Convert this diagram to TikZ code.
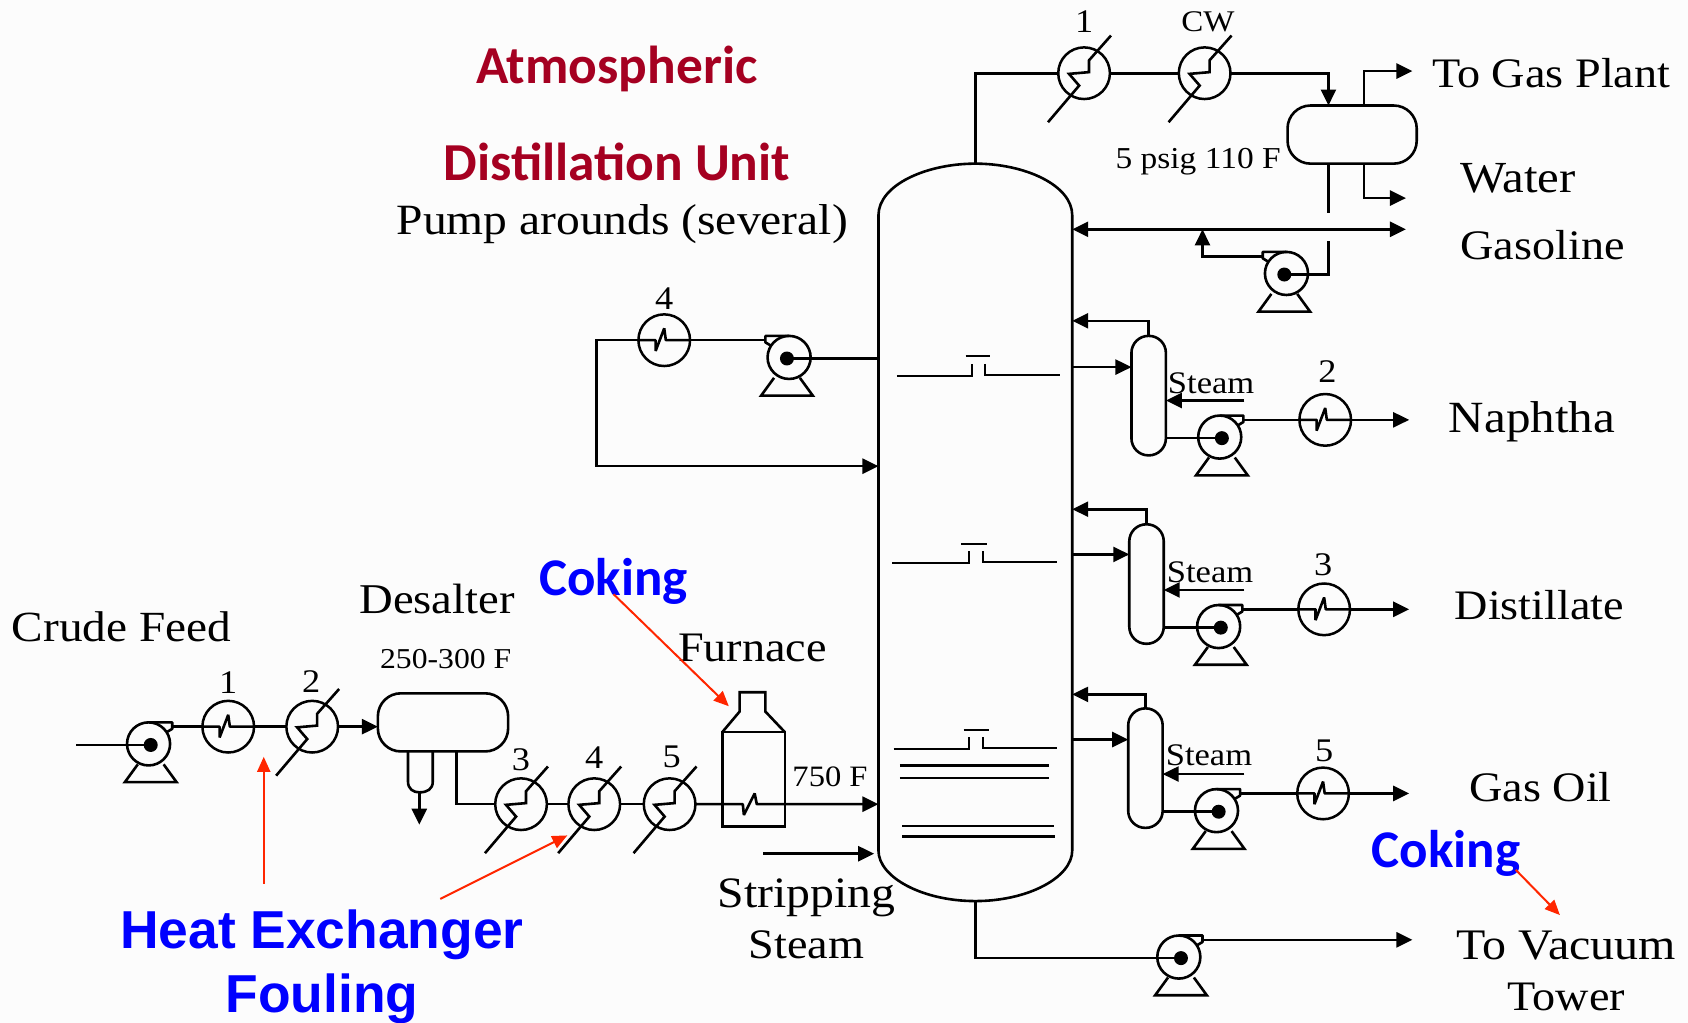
\documentclass[tikz,border=0pt]{standalone}
\usepackage{fontspec}
\usetikzlibrary{arrows.meta,calc}
\setmainfont[FakeStretch=1.1]{Liberation Serif}
\newfontfamily\carl[BoldFont={Carlito Bold}]{Carlito}
\newfontfamily\lsans{Liberation Sans}
\definecolor{titlered}{RGB}{165,0,33}
\definecolor{cokeblue}{RGB}{0,0,255}
\definecolor{arrowred}{RGB}{255,38,0}
\def\uu{0.53827pt}
\tikzset{
  pipe/.style={line width=1.3pt,line join=miter},
  flow/.style={pipe,-{Triangle[length=8pt,width=7.5pt]}},
  bothflow/.style={pipe,{Triangle[length=8pt,width=7.5pt]}-{Triangle[length=8pt,width=7.5pt]}},
  hxshell/.style={circle,draw,line width=1.25pt,minimum size=48*\uu,inner sep=0pt,outer sep=0pt},
  pumpbody/.style={circle,draw,line width=1.3pt,minimum size=40*\uu,inner sep=0pt,outer sep=0pt},
  drum/.style={rectangle,draw,line width=1.3pt,rounded corners=11.5pt,inner sep=0pt,outer sep=0pt},
  strip/.style={rectangle,draw,line width=1.3pt,rounded corners=8.5pt,minimum width=32*\uu,minimum height=111*\uu,inner sep=0pt,outer sep=0pt},
  fs/.style={font=\fontsize{#1}{24}\selectfont,inner sep=0pt},
  biglabel/.style={fs=21},
  midlabel/.style={fs=15},
  numlabel/.style={fs=16.5},
  redarrow/.style={draw=arrowred,line width=1pt,-{Triangle[length=7.5pt,width=6.5pt]}},
  titletext/.style={font=\carl\bfseries\fontsize{26.7}{30}\selectfont,text=titlered,inner sep=0pt},
  cokingtext/.style={font=\carl\bfseries\fontsize{26.5}{30}\selectfont,text=cokeblue,inner sep=0pt},
  foultext/.style={font=\lsans\bfseries\fontsize{26.7}{30}\selectfont,text=cokeblue,inner sep=0pt},
}
% full heat exchanger: shell and diagonal tube pass
\newcommand\HXfull[3]{%
  \node[hxshell] (#1) at (#2,#3) {};
  \draw[pipe] ($(#1)+(-33.5,45.5)$) -- ($(#1)+(-4.6,11.5)$) -- ($(#1)+(-14,0.6)$) -- ($(#1)+(4.6,-1)$) -- ($(#1)+(4.6,-12)$) -- ($(#1)+(25,-35)$);
}
% simple heat exchanger: shell and through line with a kink
\newcommand\HXkink[3]{%
  \node[hxshell] (#1) at (#2,#3) {};
  \draw[pipe,line join=bevel] (#1.west) -- ($(#1)+(-8,0)$) -- ($(#1)+(-8,10)$) -- ($(#1)+(0,-11)$) -- ($(#1)+(1.5,0)$) -- (#1.east);
}
% pump: name, x, y of the shaft, side of the outlet (+1 right, -1 left); makes #1-c and #1-out
\newcommand\Pump[4]{%
  \coordinate (#1-c) at (#2,#3);
  \node[pumpbody] (#1) at ($(#1-c)+(-#4*2,-1)$) {};
  \fill (#1-c) circle[radius=6.5*\uu];
  \draw[pipe,line join=round] ($(#1)+(0,-20)$) -- ($(#1-c)+(#4*20,-21)$) -- ($(#1-c)+(#4*20,-15)$) -- ($(#1-c)+(#4*15,-12)$);
  \draw[pipe] ($(#1-c)+(-12,18)$) -- ($(#1-c)+(-24,34.5)$) -- ($(#1-c)+(24,34.5)$) -- ($(#1-c)+(12,18)$);
  \coordinate (#1-out) at ($(#1-c)+(#4*20,-17)$);
}
% tray with chimney cap
\newcommand\Tray[8]{%
  \draw[pipe,line width=1.1pt] (#1,#2) -- (#3,#2) -- (#3,{#2-11});
  \draw[pipe,line width=1.1pt] (#4,{#2-11}) -- (#4,#5) -- (#6,#5);
  \draw[pipe,line width=1.1pt] (#7,{#2-18}) -- (#8,{#2-18});
}
\begin{document}
\begin{tikzpicture}[x=\uu,y=-\uu]
\useasboundingbox (0,0) rectangle (1568,950);
\fill[white!99!black] (0,0) rectangle (1568,950);

% titles and annotation text
\node[titletext] (t1) at (573,64) {Atmospheric};
\node[titletext] (t2) at (573,150) {Distillation Unit};
\node[fs=21.6] (l-pa) at (578,208) {Pump arounds (several)};
\node[cokingtext] (c1) at (570,540) {Coking};
\node[cokingtext] (c2) at (1343,793) {Coking};
\node[foultext] (f1) at (299,868) {Heat Exchanger};
\node[foultext] (f2) at (299,928) {Fouling};

% column
\coordinate (coltop) at (906,152);
\coordinate (colbot) at (906,837);
\draw[pipe] (816,790) -- (816,200) .. controls (816,172) and (860,152) .. (coltop) .. controls (952,152) and (996,172) .. (996,200) -- (996,790) .. controls (996,815) and (955,837) .. (colbot) .. controls (857,837) and (816,815) .. (816,790) -- cycle;

% trays
\Tray{833}{349}{903}{915}{348}{985}{897}{920}
\Tray{829}{523}{900}{913}{522}{982}{893}{917}
\Tray{830}{696}{900}{913}{695}{982}{895}{919}
\foreach \a/\b/\c/\d in {836/711/974/711,836/723/974/723,838/767/979/767,838/777/980/777}
  \draw[pipe,line width=1.1pt] (\a,\b) -- (\c,\d);

% overhead
\HXfull{ho1}{1007}{68}
\HXfull{hocw}{1119}{68}
\node[drum,minimum width=120*\uu,minimum height=54*\uu] (od) at (1256,125) {};
\coordinate (odin) at (1234,98);
\coordinate (odgas) at (1267,98);
\coordinate (odwat) at (1267,152);
\coordinate (odliq) at (1234,152);
\coordinate (gasend) at (1312,66);
\coordinate (watend) at (1306,184);
\coordinate (gapa) at (1234,198);
\coordinate (gapb) at (1234,224);
\coordinate (gl) at (996,213);
\coordinate (gr) at (1306,213);
\coordinate (gj) at (1117,213);
\draw[pipe] (coltop) |- (ho1.west);
\draw[pipe] (ho1.east) -- (hocw.west);
\draw[flow] (hocw.east) -| (odin);
\draw[flow] (odgas) |- (gasend);
\draw[flow] (odwat) |- (watend);
\draw[pipe] (odliq) -- (gapa);
\draw[bothflow] (gl) -- (gr);
\Pump{po}{1193}{255}{-1}
\draw[pipe] (gapb) |- (po-c);
\draw[flow] (po-out) -| (gj);

% pump-around
\HXkink{h4a}{617}{316}
\Pump{pa}{731}{333}{-1}
\coordinate (pawd) at (816,333);
\coordinate (pac) at (554,316);
\coordinate (pain) at (816,433);
\draw[pipe] (pa-c) -- (pawd);
\draw[pipe] (pa-out) -- (h4a.east);
\draw[flow] (h4a.west) -- (pac) |- (pain);

% side strippers: name, x centre, top y, return y, feed y, steam y, pump x, pump y, hx x
\newcommand\SideStrip[9]{%
  \node[strip] (#1) at (#2,{#3+55.5}) {};
  \coordinate (#1-top) at (#2,#3);
  \coordinate (#1-ret) at (996,#4);
  \coordinate (#1-draw) at (996,#5);
  \coordinate (#1-st) at (1156,#6);
  \draw[flow] (#1-top) |- (#1-ret);
  \draw[flow] (#1-draw) -- (#1.west |- #1-draw);
  \draw[flow] (#1-st) -- (#1.east |- #1-st);
  \Pump{#1p}{#7}{#8}{1}
  \draw[pipe] (#1.east |- #1p-c) -- (#1p-c);
  \HXkink{#1h}{#9}{{#8-17}}
  \coordinate (#1-end) at (1309,{#8-17});
  \draw[pipe] (#1p-out) -- (#1h.west);
  \draw[flow] (#1h.east) -- (#1-end);
}
\SideStrip{sa}{1067}{312}{298}{341}{372}{1135}{407}{1231}
\SideStrip{sb}{1065}{487}{473}{515}{548}{1134}{583}{1230}
\SideStrip{sc}{1064}{658}{645}{687}{719}{1132}{754}{1229}

% bottoms
\Pump{pb}{1097}{890}{1}
\coordinate (bend) at (1312,873);
\draw[pipe] (colbot) |- (pb-c);
\draw[flow] (pb-out) -- (bend);

% crude train
\coordinate (feed) at (71,692);
\Pump{pc}{140}{692}{1}
\draw[pipe] (feed) -- (pc-c);
\HXkink{h1}{212}{675}
\HXfull{h2}{290}{675}
\node[drum,minimum width=121*\uu,minimum height=54*\uu] (des) at (411.5,671) {};
\draw[pipe] (pc-out) -- (h1.west);
\draw[pipe] (h1.east) -- (h2.west);
\draw[flow] (h2.east) -- (h2.east -| des.west);
% boot
\coordinate (bootl) at (379,698);
\coordinate (bootr) at (402,698);
\coordinate (bootb) at (389.5,736);
\coordinate (bootend) at (389.5,766);
\draw[pipe] (bootl) -- (379,726) .. controls (379,733) and (384,736) .. (bootb) .. controls (397,736) and (402,733) .. (402,726) -- (bootr);
\draw[flow] (bootb) -- (bootend);
\HXfull{h3}{484}{747}
\HXfull{h4}{552}{747}
\HXfull{h5}{622}{747}
\coordinate (desout) at (424,698);
\draw[pipe] (desout) |- (h3.west);
\draw[pipe] (h3.east) -- (h4.west);
\draw[pipe] (h4.east) -- (h5.west);

% furnace
\node[rectangle,draw,line width=1.3pt,minimum width=58*\uu,minimum height=88*\uu,inner sep=0pt,outer sep=0pt] (fur) at (700,724) {};
\draw[pipe] (fur.north west) -- (687,661) -- (687,643) -- (711,643) -- (711,661) -- (fur.north east);
\coordinate (colfeed) at (816,747);
\draw[flow,line join=bevel] (h5.east) -- (690,747) -- (691,757) -- (701,737) -- (703,747) -- (colfeed);

% stripping steam
\coordinate (sss) at (709,793);
\coordinate (sse) at (812,793);
\draw[flow] (sss) -- (sse);

% labels
\node[fs=21.5] (lcrude) at (113,582) {Crude Feed};
\node[fs=21.2] (ldes) at (406,556) {Desalter};
\node[fs=14.4] (ltemp) at (414,612) {250-300 F};
\node[biglabel] (lfur) at (699,602) {Furnace};
\node[fs=14.8] (l750) at (771,722) {750 F};
\node[fs=21.7] (lss1) at (749,834) {Stripping};
\node[biglabel] (lss2) at (749,878) {Steam};
\node[fs=15.2] (lpsig) at (1113,150) {5 psig 110 F};
\node[biglabel] (lgas) at (1441,68) {To Gas Plant};
\node[fs=22.2] (lwat) at (1410,166) {Water};
\node[biglabel] (lgsl) at (1433,228) {Gasoline};
\node[fs=22.3] (lnap) at (1423,392) {Naphtha};
\node[biglabel] (ldist) at (1430,562) {Distillate};
\node[biglabel] (lgo) at (1431,731) {Gas Oil};
\node[fs=21.8] (lvac1) at (1455,878) {To Vacuum};
\node[biglabel] (lvac2) at (1455,926) {Tower};
\node[fs=15.7] (ls1) at (1125,356) {Steam};
\node[fs=15.7] (ls2) at (1124,532) {Steam};
\node[fs=15.7] (ls3) at (1123,702) {Steam};
\node[numlabel] (n1) at (212,634) {1};
\node[numlabel] (n2) at (289,633) {2};
\node[numlabel] (n3) at (484,706) {3};
\node[numlabel] (n4) at (552,704) {4};
\node[numlabel] (n5) at (624,703) {5};
\node[numlabel] (n4a) at (617,277) {4};
\node[numlabel] (ntop) at (1007,20) {1};
\node[midlabel] (ncw) at (1122,20) {CW};
\node[numlabel] (ns2) at (1233,345) {2};
\node[numlabel] (ns3) at (1229,525) {3};
\node[numlabel] (ns5) at (1230,697) {5};

% red arrows
\coordinate (ra1) at (245,821);
\coordinate (ra1e) at (245,703);
\coordinate (ra2) at (409,835);
\coordinate (ra2e) at (527,776);
\coordinate (ra3) at (570,552);
\coordinate (ra3e) at (677,656);
\coordinate (ra4) at (1408,808);
\coordinate (ra4e) at (1449,850);
\draw[redarrow] (ra1) -- (ra1e);
\draw[redarrow] (ra2) -- (ra2e);
\draw[redarrow] (ra3) -- (ra3e);
\draw[redarrow] (ra4) -- (ra4e);
\end{tikzpicture}
\end{document}
